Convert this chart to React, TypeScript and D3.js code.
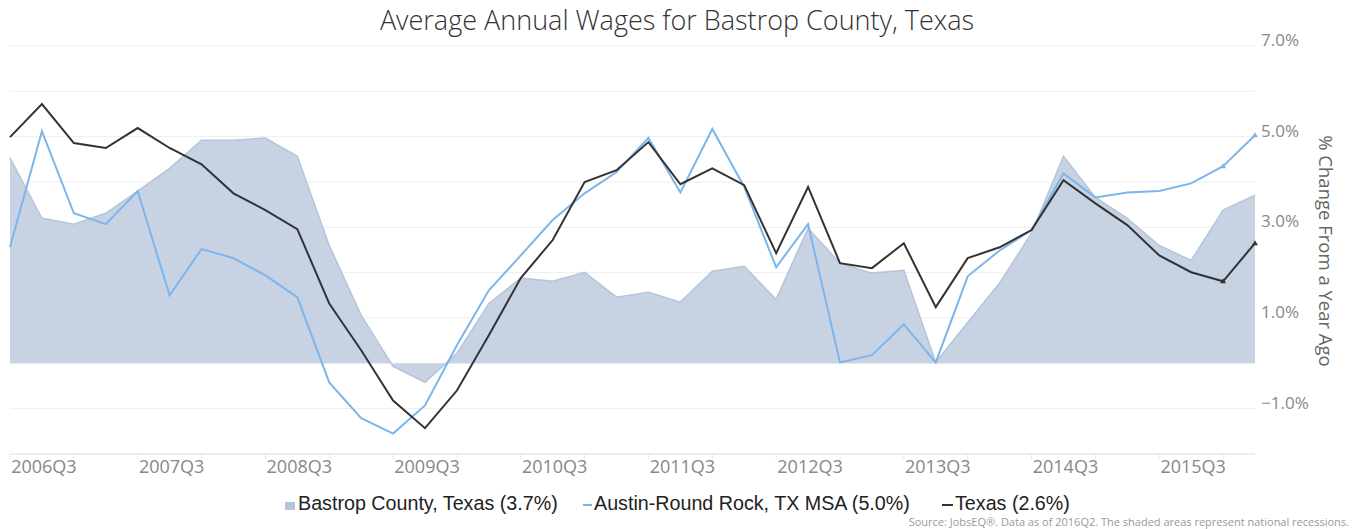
import React from "react";
import * as d3 from "d3";

const quarters: string[] = [];
for (let y = 2006; y <= 2016; y++) for (let q = 1; q <= 4; q++) quarters.push(`${y}Q${q}`);
const categories = quarters.slice(quarters.indexOf("2006Q2"), quarters.indexOf("2016Q1") + 1);

const bastrop = [4.53, 3.2, 3.07, 3.31, 3.8, 4.3, 4.92, 4.92, 4.97, 4.57, 2.6, 1.06, -0.07, -0.42, 0.22, 1.32, 1.88, 1.81, 2.01, 1.46, 1.57, 1.35, 2.03, 2.14, 1.41, 2.98, 2.21, 1.99, 2.05, 0.02, 0.9, 1.77, 2.87, 4.57, 3.66, 3.2, 2.6, 2.27, 3.38, 3.71];
const austin = [2.56, 5.12, 3.31, 3.07, 3.8, 1.5, 2.52, 2.32, 1.94, 1.46, -0.42, -1.21, -1.55, -0.93, 0.4, 1.61, 2.38, 3.16, 3.75, 4.22, 4.97, 3.77, 5.17, 3.89, 2.12, 3.07, 0.02, 0.18, 0.86, 0.02, 1.92, 2.49, 2.94, 4.19, 3.66, 3.77, 3.8, 3.97, 4.35, 5.03];
const texas = [4.99, 5.72, 4.86, 4.75, 5.19, 4.75, 4.39, 3.75, 3.38, 2.96, 1.32, 0.29, -0.82, -1.43, -0.6, 0.62, 1.88, 2.72, 4.0, 4.26, 4.88, 3.95, 4.3, 3.93, 2.43, 3.89, 2.21, 2.1, 2.65, 1.24, 2.32, 2.56, 2.94, 4.04, 3.53, 3.05, 2.38, 2.01, 1.81, 2.65];

const yTicks = [-2, -1, 0, 1, 2, 3, 4, 5, 6, 7];
const yLabels = [-1, 1, 3, 5, 7];
const xLabels = ["2006Q3", "2007Q3", "2008Q3", "2009Q3", "2010Q3", "2011Q3", "2012Q3", "2013Q3", "2014Q3", "2015Q3"];

const title = "Average Annual Wages for Bastrop County, Texas";
const yTitle = "% Change From a Year Ago";
const source = "Source: JobsEQ\u00AE. Data as of 2016Q2. The shaded areas represent national recessions.";

export default function App() {
  const W = 1356, H = 529;
  const x = d3.scalePoint<string>().domain(categories).range([10, 1255]);
  const y = d3.scaleLinear().domain([-2, 7]).range([454, 46]);

  const area = d3.area<number>()
    .x((_, i) => x(categories[i])!)
    .y0(y(0))
    .y1((d) => y(d));
  const line = d3.line<number>().x((_, i) => x(categories[i])!).y((d) => y(d));

  const tri = (cx: number, cy: number) => `M${cx},${cy - 3}L${cx + 3},${cy + 2}L${cx - 3},${cy + 2}Z`;
  const n = categories.length;
  const font = "'Open Sans', 'Noto Sans', sans-serif";

  return (
    <div style={{ position: "absolute", left: 0, top: 0 }}>
      <svg width={W} height={H} style={{ display: "block", background: "#fff" }}>
        <text x={677} y={30} textAnchor="middle" fontFamily={font} fontWeight={300} fontSize={27} fill="#333">{title}</text>

        {yTicks.map((t) => (
          <line key={t} x1={10} x2={1255} y1={y(t)} y2={y(t)} stroke="#eeeeee" strokeWidth={1} />
        ))}

        <path d={area(bastrop)!} fill="#c7d3e3" />
        <path d={line(bastrop)!} fill="none" stroke="#b4c5da" strokeWidth={1.5} />
        <path d={line(austin)!} fill="none" stroke="#7cb5ec" strokeWidth={2} />
        <path d={line(texas)!} fill="none" stroke="#333333" strokeWidth={2} />

        {[n - 2, n - 1].map((i) => (
          <g key={i}>
            <path d={tri(x(categories[i])!, y(austin[i]))} fill="#7cb5ec" />
            <path d={tri(x(categories[i])!, y(texas[i]))} fill="#333" />
          </g>
        ))}

        <line x1={10} x2={1255} y1={454} y2={454} stroke="#dfe7f1" strokeWidth={1} />
        {categories.map((c, i) => i % 2 === 0 ? (
          <line key={c} x1={x(c)!} x2={x(c)!} y1={454} y2={459} stroke="#dfe7f1" strokeWidth={1} />
        ) : null)}
        {xLabels.map((c) => (
          <text key={c} x={x(c)! + 2} y={473} textAnchor="middle" fontFamily={font} fontSize={18} fill="#888">{c}</text>
        ))}

        {yLabels.map((t) => (
          <text key={t} x={1261} y={y(t)} fontFamily={font} fontSize={17} fill="#888">
            {(t < 0 ? "\u2212" : "") + Math.abs(t).toFixed(1) + "%"}
          </text>
        ))}

        <text transform="translate(1319,251) rotate(90)" textAnchor="middle" fontFamily={font} fontSize={18.5} fill="#666">{yTitle}</text>

        <g fontFamily="'Liberation Sans', Arial, sans-serif" fontSize={19.7} fill="#222">
          <rect x={285} y={502} width={10} height={8} fill="#b4c5da" />
          <text x={298} y={510}>Bastrop County, Texas (3.7%)</text>
          <line x1={583} x2={592} y1={505} y2={505} stroke="#7cb5ec" strokeWidth={2} />
          <text x={594} y={510}>Austin-Round Rock, TX MSA (5.0%)</text>
          <line x1={942} x2={953} y1={505} y2={505} stroke="#333" strokeWidth={2} />
          <text x={955} y={510}>Texas (2.6%)</text>
        </g>

        <text x={1349} y={526} textAnchor="end" fontFamily={font} fontSize={11} fill="#999">{source}</text>
      </svg>
    </div>
  );
}
